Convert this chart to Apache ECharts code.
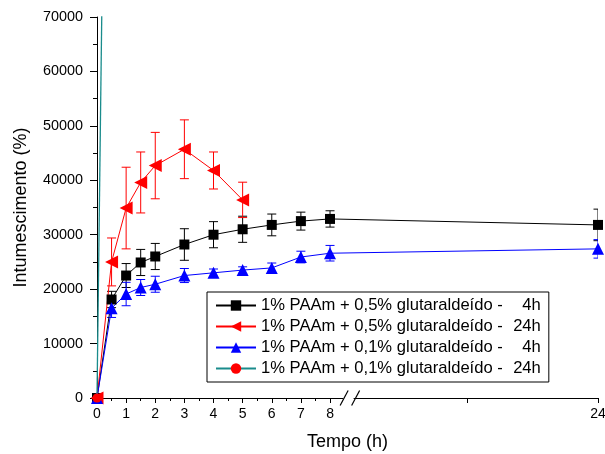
<!DOCTYPE html>
<html>
<head>
<meta charset="utf-8">
<script src="https://cdn.jsdelivr.net/npm/echarts@6/dist/echarts.min.js"></script>
<style>html,body{margin:0;padding:0;background:#fff}#c{width:605px;height:454px}</style>
</head>
<body>
<div id="c"></div>
<script>
// ---- data ----
const seriesNames = [
  '1% PAAm + 0,5% glutaraldeído - 4h',
  '1% PAAm + 0,5% glutaraldeído - 24h',
  '1% PAAm + 0,1% glutaraldeído - 4h',
  '1% PAAm + 0,1% glutaraldeído - 24h'
];
const hoursA = [0, 0.5, 1, 1.5, 2, 3, 4, 5, 6, 7, 8, 24];
const blackVals = [0, 18100, 22500, 24900, 26000, 28200, 30000, 31000, 31800, 32500, 32900, 31800];
const blackErr  = [0, 1500, 2200, 2400, 2400, 2900, 2400, 2400, 2000, 1650, 1500, 2900];
const hoursR = [0, 0.5, 1, 1.5, 2, 3, 4, 5];
const redVals = [0, 25000, 34900, 39600, 42700, 45700, 41800, 36400];
const redErr  = [0, 4400, 7500, 5600, 6100, 5400, 3400, 3250];
const blueVals = [0, 16500, 19100, 20300, 20900, 22500, 23000, 23500, 23900, 25900, 26600, 27400];
const blueErr  = [0, 1700, 2150, 1470, 1470, 1290, 700, 600, 900, 1070, 1430, 1700];
const hoursT = [0, 0.5];
const tealVals = [0, 215000];
const xMajorLabels = [0, 1, 2, 3, 4, 5, 6, 7, 8, 24];
const xUnlabeledTicks = [16];
const yMax = 70000, yStep = 10000;

// ---- broken time scale (first segment 0..8 h, second segment compressed up to 24 h) ----
const SEG2_REF = 16, SEG2_REF_POS = 12.7, SEG2_SCALE = 0.5625;
function toDisp(t) { return t <= 8.3 ? t : SEG2_REF_POS + (t - SEG2_REF) * SEG2_SCALE; }
const xMax = toDisp(24);
const BREAK_FROM = 8.45, BREAK_TO = 8.81;

const majorTicks = xMajorLabels.concat(xUnlabeledTicks).map(toDisp);
const labelVals = xMajorLabels.map(toDisp);
const minorTicks = [];
for (let h = 0.5; h < 8; h += 1) minorTicks.push(h);

function pts(hs, vs) { return hs.map((h, i) => [toDisp(h), vs[i]]); }
function errPts(hs, vs, es) { return hs.map((h, i) => [toDisp(h), vs[i], es[i]]); }

function errRender(color) {
  return function (params, api) {
    const x = api.value(0), y = api.value(1), e = api.value(2);
    if (!e) return null;
    const t = api.coord([x, y + e]), b = api.coord([x, y - e]);
    const hw = 4.5, st = { stroke: color, lineWidth: 1 };
    return { type: 'group', children: [
      { type: 'line', shape: { x1: t[0], y1: t[1], x2: b[0], y2: b[1] }, style: st },
      { type: 'line', shape: { x1: t[0] - hw, y1: t[1], x2: t[0] + hw, y2: t[1] }, style: st },
      { type: 'line', shape: { x1: b[0] - hw, y1: b[1], x2: b[0] + hw, y2: b[1] }, style: st }
    ]};
  };
}

const FONT = 'Liberation Sans, Arial, sans-serif';
const chart = echarts.init(document.getElementById('c'), null, { renderer: 'canvas' });

const colors = ['#000000', '#ff0000', '#0000ff', '#1a8c8c'];

chart.setOption({
  animation: false,
  backgroundColor: '#fff',
  grid: { left: 97, right: 7, top: 17, bottom: 56, containLabel: false, outerBoundsMode: 'none' },
  xAxis: [{
    type: 'value', min: 0, max: xMax, position: 'bottom',
    name: 'Tempo (h)', nameLocation: 'middle', nameGap: 35,
    nameTextStyle: { fontFamily: FONT, fontSize: 18, color: '#000' },
    axisLine: { show: true, onZero: false, lineStyle: { color: '#000', width: 1 } },
    axisTick: { show: true, inside: false, length: 5, customValues: majorTicks, lineStyle: { color: '#000' } },
    axisLabel: { show: true, customValues: labelVals, margin: 9, fontFamily: FONT, fontSize: 14, color: '#000', hideOverlap: false,
      formatter: function (v) { return Math.abs(v - toDisp(24)) < 1e-6 ? '24' : String(Math.round(v)); } },
    splitLine: { show: false }
  }, {
    type: 'value', min: 0, max: xMax, position: 'bottom', offset: 0,
    axisLine: { show: false },
    axisTick: { show: true, inside: false, length: 3, customValues: minorTicks, lineStyle: { color: '#000' } },
    axisLabel: { show: false },
    splitLine: { show: false }
  }],
  yAxis: {
    type: 'value', min: 0, max: yMax, interval: yStep,
    name: 'Intumescimento (%)', nameLocation: 'middle', nameGap: 67,
    nameTextStyle: { fontFamily: FONT, fontSize: 18, color: '#000' },
    axisLine: { show: true, lineStyle: { color: '#000', width: 1 } },
    axisTick: { show: true, inside: false, length: 7, lineStyle: { color: '#000' } },
    minorTick: { show: true, splitNumber: 2, length: 4, lineStyle: { color: '#000' } },
    axisLabel: { margin: 14, fontFamily: FONT, fontSize: 14.4, color: '#000', formatter: function (v) { return String(v); } },
    splitLine: { show: false }
  },
  legend: {
    orient: 'vertical', left: 207, top: 292,
    data: seriesNames,
    backgroundColor: '#fff', borderColor: '#000', borderWidth: 1, borderRadius: 0,
    padding: [5, 8, 5, 8], itemGap: 4, itemWidth: 40, itemHeight: 13,
    textStyle: { fontFamily: FONT, fontSize: 16.6, color: '#000', lineHeight: 14,
      rich: {
        a: { fontFamily: FONT, fontSize: 16.6, color: '#000', lineHeight: 14 },
        b: { fontFamily: FONT, fontSize: 16.6, color: '#000', lineHeight: 14, width: 38, align: 'right' }
      } },
    formatter: function (name) {
      const i = name.lastIndexOf(' - ');
      return '{a|' + name.slice(0, i + 2) + '}{b|' + name.slice(i + 3) + '}';
    }
  },
  series: [
    { type: 'custom', name: 'errBlack', renderItem: errRender('#000'), data: errPts(hoursA, blackVals, blackErr), z: 2, clip: true, encode: { x: 0, y: 1 } },
    { type: 'line', name: seriesNames[0], data: pts(hoursA, blackVals), symbol: 'rect', symbolSize: 10,
      lineStyle: { color: colors[0], width: 1 }, itemStyle: { color: '#000' }, z: 3 },
    { type: 'custom', name: 'errRed', renderItem: errRender('#ff0000'), data: errPts(hoursR, redVals, redErr), z: 2, clip: true, encode: { x: 0, y: 1 } },
    { type: 'line', name: seriesNames[1], data: pts(hoursR, redVals), symbol: 'triangle', symbolRotate: 90, symbolSize: 13,
      lineStyle: { color: colors[1], width: 1 }, itemStyle: { color: '#ff0000' }, z: 3 },
    { type: 'custom', name: 'errBlue', renderItem: errRender('#0000ff'), data: errPts(hoursA, blueVals, blueErr), z: 2, clip: true, encode: { x: 0, y: 1 } },
    { type: 'line', name: seriesNames[2], data: pts(hoursA, blueVals), symbol: 'triangle', symbolSize: 12,
      lineStyle: { color: colors[2], width: 1 }, itemStyle: { color: '#0000ff' }, z: 3 },
    { type: 'line', name: seriesNames[3], data: pts(hoursT, tealVals), symbol: 'circle', symbolSize: 9, clip: true,
      lineStyle: { color: colors[3], width: 1.3 }, itemStyle: { color: '#ff0000' }, z: 4 }
  ]
});

// axis-break decoration
const p0 = chart.convertToPixel({ xAxisIndex: 0, yAxisIndex: 0 }, [BREAK_FROM, yMax]);
const p1 = chart.convertToPixel({ xAxisIndex: 0, yAxisIndex: 0 }, [BREAK_TO, 0]);
const slash = (cx, cy) => ({ type: 'line', z: 5, shape: { x1: cx - 4, y1: cy + 7.5, x2: cx + 4, y2: cy - 7.5 }, style: { stroke: '#000', lineWidth: 1.2 } });
chart.setOption({
  graphic: [
    { type: 'rect', z: 3, shape: { x: p0[0], y: p0[1], width: p1[0] - p0[0], height: p1[1] - p0[1] + 2 }, style: { fill: '#fff' } },
    slash(p0[0] + 1, p1[1]),
    slash(p1[0] + 2, p1[1])
  ]
});
</script>
</body>
</html>
